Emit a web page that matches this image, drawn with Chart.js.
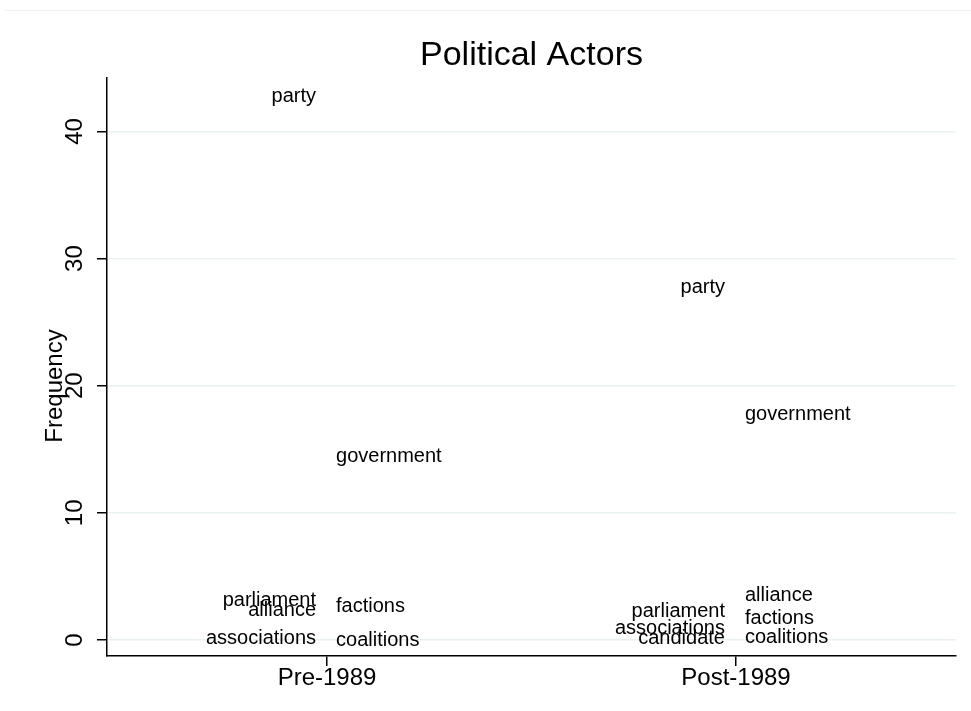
<!DOCTYPE html>
<html>
<head>
<meta charset="utf-8">
<script src="https://cdn.jsdelivr.net/npm/chart.js@4.4.1/dist/chart.umd.min.js"></script>
<style>
  html, body { margin: 0; padding: 0; background: #fff; }
  #wrap { position: relative; width: 971px; height: 711px; }
  #topline { position: absolute; left: 5px; right: 0; top: 10px; border-top: 1px solid #edf2f2; }
  canvas { position: absolute; left: 0; top: 0; }
</style>
</head>
<body>
<div id="wrap">
  <div id="topline"></div>
  <canvas id="chart" width="971" height="711"></canvas>
</div>
<script>
const categories = ["Pre-1989", "Post-1989"];
const actorsPre = ["party", "government", "parliament", "factions", "alliance", "associations", "coalitions"];
const freqPre = [42.8, 14.5, 3.2, 2.7, 2.4, 0.2, 0];
const actorsPost = ["party", "government", "alliance", "parliament", "factions", "associations", "coalitions", "candidate"];
const freqPost = [27.8, 17.8, 3.6, 2.3, 1.8, 1.0, 0.3, 0.2];
const yTicks = [0, 10, 20, 30, 40];

const FONT = "'Liberation Sans', Arial, sans-serif";
// labels drawn to the left of their point, the rest go to the right
const labelLeft = ["party", "parliament", "alliance", "associations", "candidate"];

const textPlugin = {
  id: "textPlugin",
  afterDatasetsDraw(chart) {
    const ctx = chart.ctx;
    const area = chart.chartArea;
    const y = chart.scales.y;
    ctx.save();
    ctx.fillStyle = "#000";
    ctx.textBaseline = "middle";

    // marker labels
    ctx.font = "20px " + FONT;
    chart.data.datasets.forEach((ds, i) => {
      chart.getDatasetMeta(i).data.forEach((pt, j) => {
        const name = ds.names[j];
        // post-1989 alliance sits on the right side
        const left = labelLeft.includes(name) && !(i === 1 && name === "alliance");
        ctx.textAlign = left ? "right" : "left";
        ctx.fillText(name, pt.x + (left ? -11 : 9), pt.y + 1);
      });
    });

    // title
    ctx.font = "34px " + FONT;
    ctx.textAlign = "center";
    ctx.fillText("Political Actors", (area.left + area.right) / 2, 56);

    // y tick labels, rotated
    ctx.font = "24px " + FONT;
    yTicks.forEach((v) => {
      ctx.save();
      ctx.translate(75, y.getPixelForValue(v));
      ctx.rotate(-Math.PI / 2);
      ctx.fillText(String(v), 0, 0);
      ctx.restore();
    });

    // y axis title
    ctx.save();
    ctx.translate(55, 386);
    ctx.rotate(-Math.PI / 2);
    ctx.fillText("Frequency", 0, 0);
    ctx.restore();

    ctx.restore();
  },
};

const ctx = document.getElementById("chart").getContext("2d");

new Chart(ctx, {
  type: "scatter",
  data: {
    datasets: [
      {
        label: categories[0],
        names: actorsPre,
        data: freqPre.map((v) => ({ x: 0, y: v })),
        pointRadius: 0,
      },
      {
        label: categories[1],
        names: actorsPost,
        data: freqPost.map((v) => ({ x: 1, y: v })),
        pointRadius: 0,
      },
    ],
  },
  options: {
    responsive: false,
    animation: false,
    layout: {
      padding: { left: 97, right: 15, top: 78, bottom: 0 },
    },
    scales: {
      x: {
        type: "linear",
        min: -0.538,
        max: 1.538,
        afterBuildTicks: (scale) => {
          scale.ticks = categories.map((c, i) => ({ value: i }));
        },
        afterFit: (scale) => {
          scale.height = 55;
        },
        ticks: {
          callback: (v) => categories[v],
          color: "#000",
          font: { size: 24, family: FONT },
          padding: -2,
          maxRotation: 0,
        },
        grid: {
          drawOnChartArea: false,
          tickLength: 10,
          tickColor: "#000",
          lineWidth: 1.5,
        },
        border: { color: "#000", width: 1.5 },
      },
      y: {
        type: "linear",
        min: -1.26,
        max: 44.2,
        afterBuildTicks: (scale) => {
          scale.ticks = yTicks.map((v) => ({ value: v }));
        },
        afterFit: (scale) => {
          scale.width = 10;
        },
        ticks: { display: false },
        grid: {
          color: "#e9f1f3",
          lineWidth: 1.5,
          tickLength: 10,
          tickColor: "#000",
        },
        border: { color: "#000", width: 1.5 },
      },
    },
    plugins: {
      legend: { display: false },
      tooltip: { enabled: false },
    },
  },
  plugins: [textPlugin],
});
</script>
</body>
</html>
